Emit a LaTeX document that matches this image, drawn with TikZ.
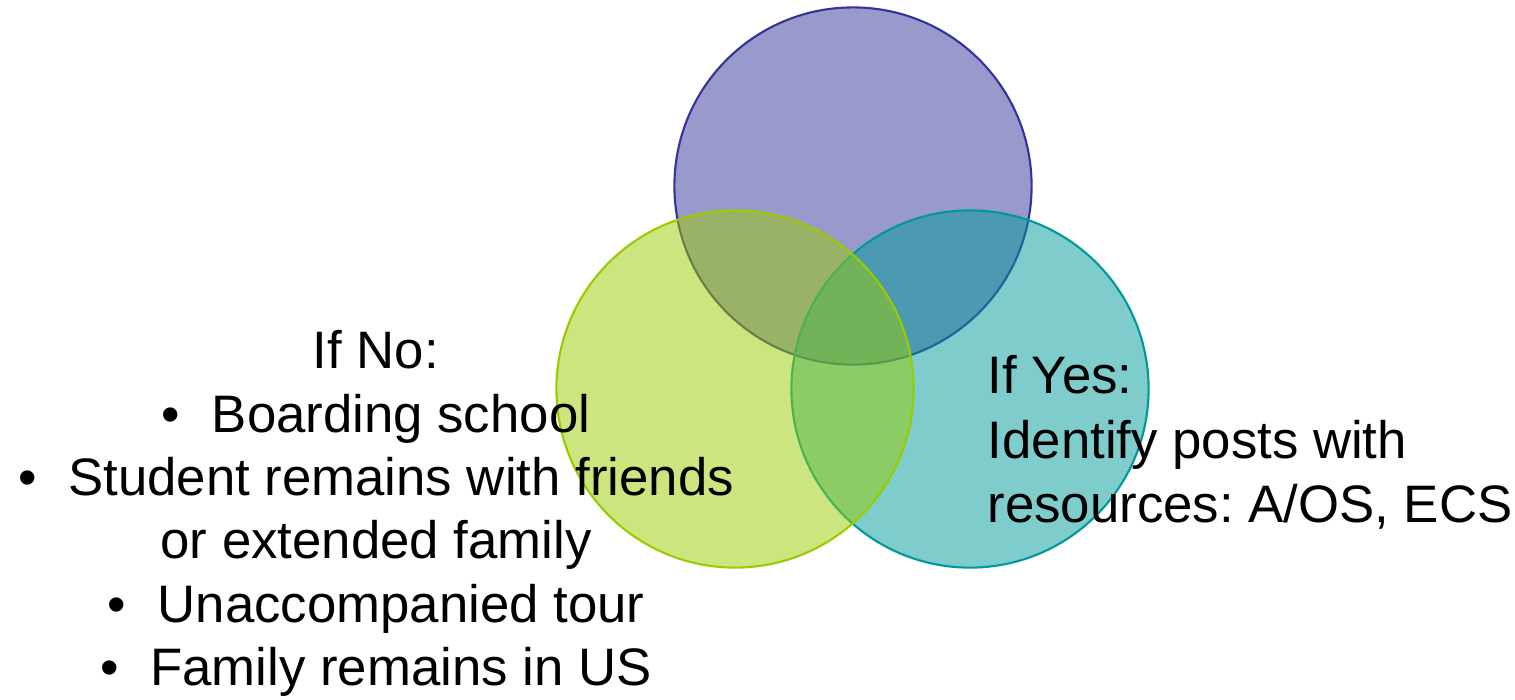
\documentclass[tikz,border=0pt]{standalone}
\usepackage{fontspec}
\setmainfont{Liberation Sans}
\usetikzlibrary{positioning}
\definecolor{vennblue}{HTML}{333399}
\definecolor{venngreen}{HTML}{99CC00}
\definecolor{vennteal}{HTML}{009999}
\newcommand{\bul}{\textbullet\hspace{0.6em}}
\frenchspacing

\begin{document}
\begin{tikzpicture}[x=0.01cm,y=-0.01cm,
                    venn/.style={circle,minimum size=3.57cm,inner sep=0pt,line width=0.6pt,fill opacity=0.5},
                    main text/.style={inner sep=0pt,font=\fontsize{15}{18}\selectfont}]
  \useasboundingbox (0,0) rectangle (1515,699);

  % the three circles (teal under green)
  \node[venn, draw=vennblue, fill=vennblue] (top) at (853,186) {};
  \node[venn, draw=vennteal, fill=vennteal] (right) at (970,389) {};
  \node[venn, draw=venngreen, fill=venngreen] (left) at (735,389) {};

  % the two texts
  \node[main text, align=center, anchor=north] (no) at (376,330)
    {If No:\\ \bul Boarding school\\ \bul Student remains with friends\\ or extended family\\
     \bul Unaccompanied tour\\ \bul Family remains in US};
  \node[main text, font=\fontsize{15}{18.3}\selectfont, align=left, anchor=north west] (yes) at (987,355)
    {If Yes:\\ Identify posts with\\ resources: A/OS, ECS};

\end{tikzpicture}
\end{document}
